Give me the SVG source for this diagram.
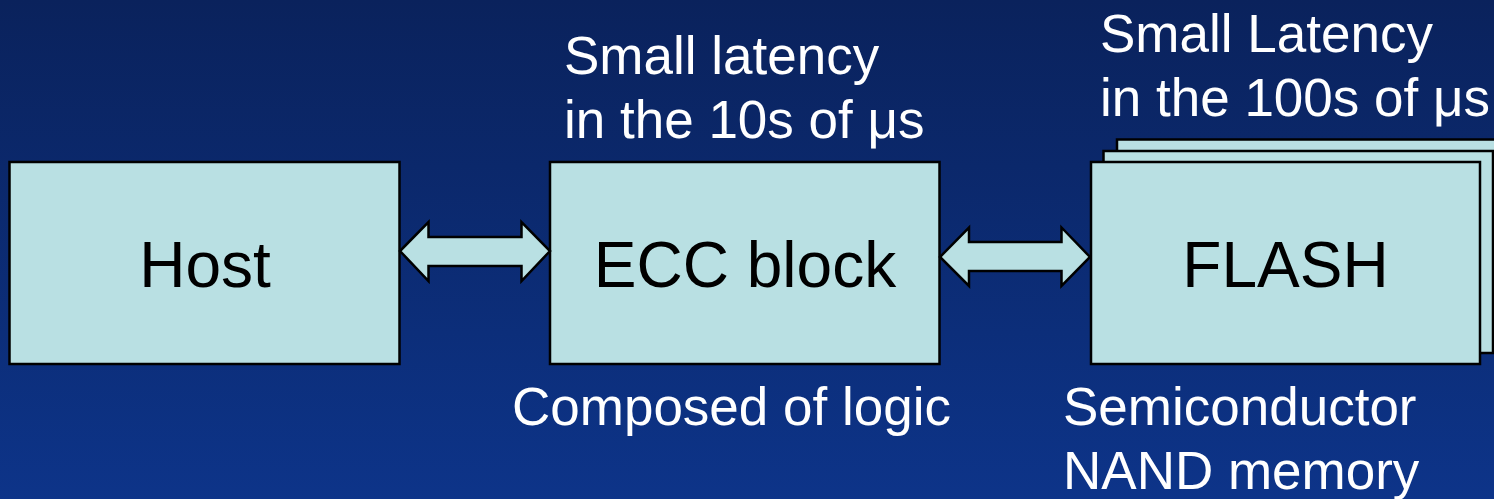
<svg xmlns="http://www.w3.org/2000/svg" width="1494" height="499" viewBox="0 0 1494 499">
  <defs>
    <linearGradient id="bg" x1="0" y1="0" x2="0" y2="1">
      <stop offset="0" stop-color="#0a225c"/>
      <stop offset="1" stop-color="#0d3489"/>
    </linearGradient>
    <style>
      .box { fill: #b9e0e3; stroke: #000; stroke-width: 2.5; }
      .lbl { font-family: "Liberation Sans", Arial, sans-serif; font-size: 64px; fill: #000; text-anchor: middle; }
      .note { font-family: "Liberation Sans", Arial, sans-serif; font-size: 53px; fill: #fff; }
      .arrow { fill: #b9e0e3; stroke: #000; stroke-width: 2.5; stroke-linejoin: miter; }
    </style>
  </defs>
  <rect x="0" y="0" width="1494" height="499" fill="url(#bg)"/>

  <g id="host">
    <rect class="box" x="9.5" y="162" width="390" height="202"/>
    <text class="lbl" x="205" y="287">Host</text>
  </g>

  <g id="ecc">
    <rect class="box" x="550" y="162" width="389.5" height="202"/>
    <text class="lbl" x="745" y="287">ECC block</text>
    <text class="note" x="564" y="74">Small latency</text>
    <text class="note" x="564" y="138">in the 10s of μs</text>
    <text class="note" x="512" y="425">Composed of logic</text>
  </g>

  <g id="flash">
    <rect class="box" x="1117" y="139.5" width="390" height="202"/>
    <rect class="box" x="1103.5" y="151" width="389.5" height="202"/>
    <rect class="box" x="1091" y="162" width="389" height="202"/>
    <text class="lbl" x="1285.5" y="287">FLASH</text>
    <text class="note" x="1100" y="52">Small Latency</text>
    <text class="note" x="1100" y="116">in the 100s of μs</text>
    <text class="note" x="1063" y="425">Semiconductor</text>
    <text class="note" x="1063" y="489">NAND memory</text>
  </g>

  <g id="connectors">
    <polygon class="arrow" points="400,251 428.5,222 428.5,237 521.5,237 521.5,222 550,251 521.5,281 521.5,266 428.5,266 428.5,281"/>
    <polygon class="arrow" points="940,257 969,227.5 969,242 1061.5,242 1061.5,227.5 1090,257 1061.5,286 1061.5,271 969,271 969,286"/>
  </g>
</svg>
